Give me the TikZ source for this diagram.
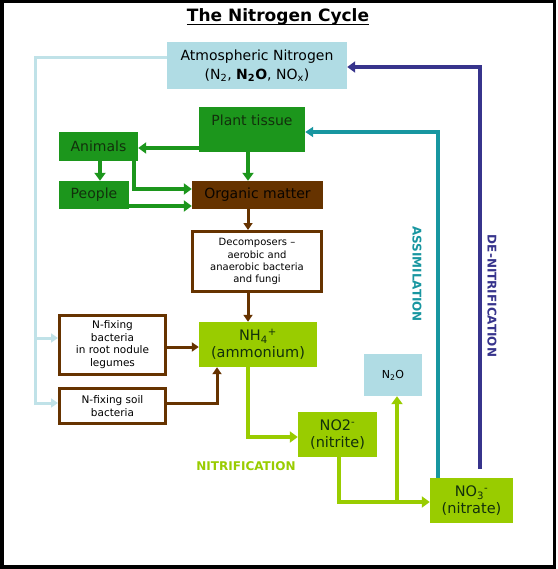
\documentclass[tikz,border=0pt]{standalone}
\usepackage{fontspec}
\setmainfont{DejaVu Sans}
\usetikzlibrary{arrows.meta}
\definecolor{atmblue}{RGB}{176,220,228}
\definecolor{skyline}{RGB}{192,226,232}
\definecolor{leafgreen}{RGB}{28,150,28}
\definecolor{limegreen}{RGB}{153,204,0}
\definecolor{soilbrown}{RGB}{102,51,0}
\definecolor{darktext}{RGB}{18,48,12}
\definecolor{assimteal}{RGB}{24,150,160}
\definecolor{denitblue}{RGB}{55,52,140}
\tikzset{
	airbox/.style={rectangle, inner sep=0pt, fill=atmblue, align=center, font=\fontsize{14}{19}\selectfont},
	greenbox/.style={rectangle, inner sep=0pt, fill=leafgreen, text=darktext, font=\fontsize{14}{17}\selectfont},
	brownbox/.style={rectangle, inner sep=0pt, fill=soilbrown, text=black!90!soilbrown, font=\fontsize{14}{17}\selectfont},
	limebox/.style={rectangle, inner sep=0pt, fill=limegreen, text=darktext, align=center, font=\fontsize{14.5}{17}\selectfont},
	% white boxes with brown border
	fixbox/.style={rectangle, inner sep=0pt, draw=soilbrown, line width=3pt, fill=white, align=center, font=\fontsize{10.5}{12.8}\selectfont},
	proclabel/.style={inner sep=0pt, font=\bfseries\fontsize{12}{14}\selectfont},
}

\begin{document}
\begin{tikzpicture}[x=1pt, y=-1pt]
	\useasboundingbox (0,0) rectangle (557,569);
	\draw[line width=3.5pt] (2,1.75) rectangle (554.5,567);
	
	\node (title) [anchor=base, inner sep=0pt, font=\bfseries\fontsize{17}{20}\selectfont] at (278,22) {The Nitrogen Cycle};
	\draw[line width=1.6pt] ([yshift=-2.6pt]title.base west) -- ([yshift=-2.6pt]title.base east);
	
	\node (atm) [airbox, minimum width=180pt, minimum height=47pt] at (257,65.5) {Atmospheric Nitrogen\\(N\textsubscript{2}, \textbf{N\textsubscript{2}O}, NO\textsubscript{x})};
	
	\node (plant) [greenbox, minimum width=106pt, minimum height=45pt, text height=10pt, text depth=17pt] at (252,129.5) {Plant tissue};
	\node (animals) [greenbox, minimum width=79pt, minimum height=29pt] at (98.5,146.5) {Animals};
	\node (people) [greenbox, minimum width=70pt, minimum height=28pt] at (94,195) {People};
	\node (organic) [brownbox, minimum width=131pt, minimum height=28pt] at (257.5,195) {Organic matter};
	\node (decomp) [fixbox, minimum width=129pt, minimum height=60pt, font=\fontsize{10}{12.2}\selectfont] at (257,261.5) {Decomposers –\\aerobic and\\anaerobic bacteria\\and fungi};
	
	\node (nh4) [limebox, minimum width=118pt, minimum height=45pt] at (258,344.5) {NH\textsubscript{4}\textsuperscript{+}\\(ammonium)};
	\node (rootfix) [fixbox, minimum width=106pt, minimum height=59pt] at (112.5,344.5) {N-fixing\\bacteria\\in root nodule\\legumes};
	\node (soilfix) [fixbox, minimum width=106pt, minimum height=35pt] at (112.5,406) {N-fixing soil\\bacteria};
	
	\node (no2) [limebox, minimum width=79pt, minimum height=45pt] at (337.5,434.5) {NO2\textsuperscript{-}\\(nitrite)};
	\node (n2o) [airbox, minimum width=58pt, minimum height=42pt, font=\fontsize{11}{13}\selectfont] at (393,375) {N\textsubscript{2}O};
	\node (no3) [limebox, minimum width=83pt, minimum height=45pt] at (471.5,500.5) {NO\textsubscript{3}\textsuperscript{-}\\(nitrate)};
	
	\node (nitrif) [proclabel, text=limegreen] at (246,466) {NITRIFICATION};
	\node (assim) [proclabel, text=assimteal, rotate=-90] at (417,274) {ASSIMILATION};
	\node (denit) [proclabel, text=denitblue, rotate=-90] at (492,296) {DE-NITRIFICATION};
	
	\coordinate (spine) at (248,0);
	\coordinate (skyleft) at (35,58);
	\coordinate (skymid) at (35,338);
	\coordinate (skybot) at (35,403);
	\coordinate (split) at (397,502);
	\coordinate (denitstart) at (480,469);
	
	\begin{scope}[line width=3pt, skyline, ->, >={Triangle[length=7pt,width=9pt]}]
		\draw (atm.west |- skyleft) -- (skyleft) -- (skybot) -- (soilfix.west |- skybot);
		\draw (skymid) -- (rootfix.west |- skymid);
	\end{scope}
	
	\begin{scope}[line width=4pt, leafgreen, ->, >={Triangle[length=8pt,width=11pt]}]
		\draw (plant.west |- 0,148) -- (animals.east |- 0,148);
		\draw (plant.south -| spine) -- (organic.north -| spine);
		\draw (animals.south -| 100,0) -- (people.north -| 100,0);
		\draw (animals.south -| 134,0) |- (organic.west |- 0,189);
		\draw (people.east |- 0,206) -- (organic.west |- 0,206);
	\end{scope}
	
	\begin{scope}[line width=3pt, soilbrown, ->, >={Triangle[length=7pt,width=9pt]}]
		\draw (organic.south -| spine) -- (decomp.north -| spine);
		\draw (decomp.south -| spine) -- (nh4.north -| spine);
		\draw (rootfix.east |- 0,347) -- (nh4.west |- 0,347);
		\draw (soilfix.east |- 0,403) -| (nh4.south -| 217,0);
	\end{scope}
	
	\begin{scope}[line width=4pt, limegreen, ->, >={Triangle[length=8pt,width=11pt]}]
		\draw (nh4.south -| spine) |- (no2.west |- 0,437);
		\draw (no2.south -| 339,0) |- (no3.west |- split);
		\draw (split) -- (n2o.south -| split);
	\end{scope}
	
	\draw[line width=3.5pt, assimteal, ->, >={Triangle[length=8pt,width=10pt]}] (no3.north -| 438,0) |- (plant.east |- 0,132);
	\draw[line width=4pt, denitblue, ->, >={Triangle[length=8pt,width=11pt]}] (denitstart) |- (atm.east |- 0,67);
\end{tikzpicture}
\end{document}
